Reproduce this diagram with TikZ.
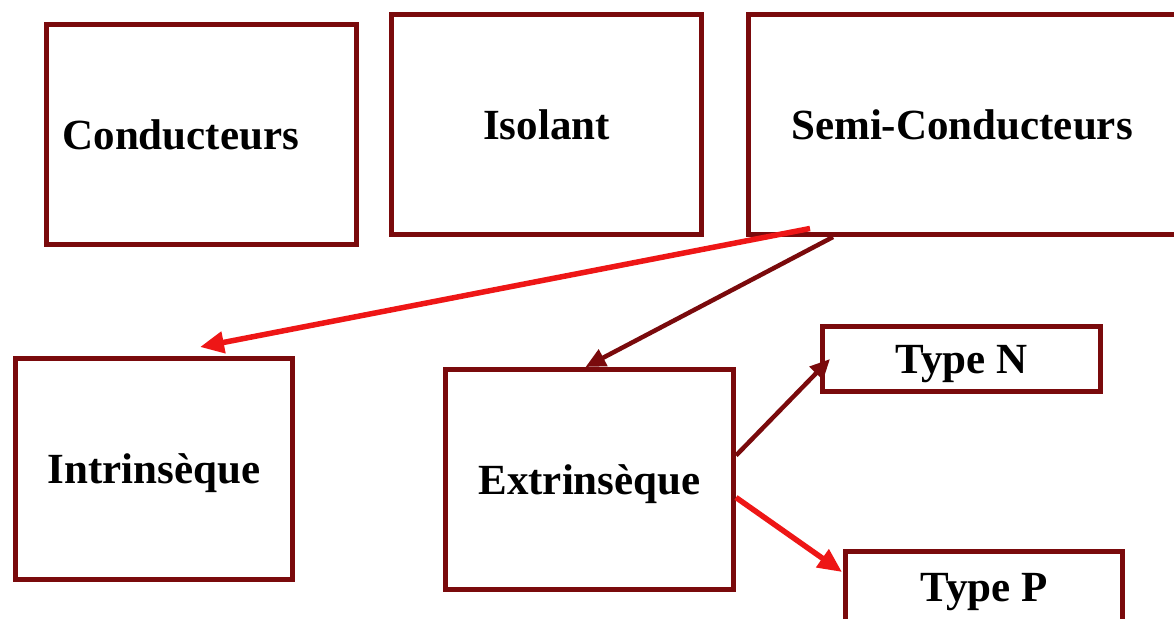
\documentclass[tikz,border=0pt]{standalone}
\usepackage{fontspec}
\setmainfont{Liberation Serif}
\usetikzlibrary{arrows.meta}
\definecolor{boxred}{RGB}{122,10,12}
\definecolor{linkred}{RGB}{238,22,22}
\begin{document}
\begin{tikzpicture}[x=1pt,y=-1pt,
  box/.style={draw=boxred,line width=5pt,inner sep=0pt,text depth=0pt,
    font=\fontsize{43}{50}\selectfont\bfseries},
  darklink/.style={draw=boxred,line width=4.5pt,
    -{Triangle[length=20pt,width=18pt]}},
  redlink/.style={draw=linkred,line width=5.5pt,
    -{Triangle[length=24pt,width=21pt]}}]
  \clip (0,0) rectangle (1174,618);
  \fill[white] (0,0) rectangle (1174,618);

  % top row: the three families of materials
  \node[box,minimum width=310pt,minimum height=220pt,
        text width=278pt,align=left] (cond) at (201.5,134.5) {Conducteurs};
  \node[box,minimum width=310pt,minimum height=220pt] (iso) at (546.5,124.5) {Isolant};
  \node[box,minimum width=428pt,minimum height=220pt] (semi) at (962,124.5) {Semi-Conducteurs};

  % second level: kinds of semiconductors
  \node[box,minimum width=277pt,minimum height=221pt] (intr) at (154,469) {Intrinsèque};
  \node[box,minimum width=288pt,minimum height=220pt] (extr) at (589.5,479.5) {Extrinsèque};

  % doping types
  \node[box,minimum width=278pt,minimum height=65pt] (typen) at (961.5,359) {Type N};
  \node[box,minimum width=277pt,minimum height=72pt] (typep) at (984,587) {Type P};

  % connectors
  \coordinate (semired) at ([shift={(-152,104)}]semi.center);
  \draw[redlink] (semired) -- ([shift={(46,-9)}]intr.north);
  \draw[darklink] ([xshift=-129pt]semi.south) -- ([xshift=-4pt]extr.north);
  \draw[darklink] ([yshift=24pt]extr.east) -- ([xshift=10pt]typen.west);
  \draw[redlink] ([yshift=-18pt]extr.east) -- ([shift={(-1,-15)}]typep.west);
\end{tikzpicture}
\end{document}
